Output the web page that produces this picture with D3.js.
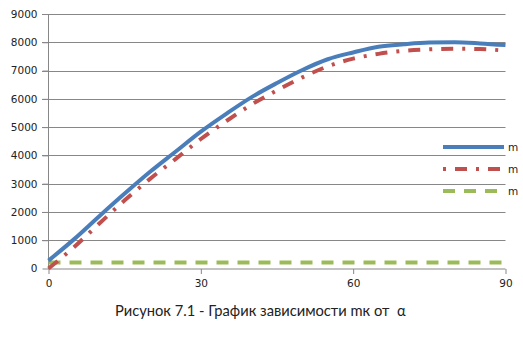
<!DOCTYPE html>
<html><head><meta charset="utf-8">
<script src="https://cdn.jsdelivr.net/npm/d3@7"></script>
<style>body{margin:0;background:#fff}</style>
</head><body>
<script>
const alpha = [0,5,10,15,20,25,30,35,40,45,50,55,60,65,70,75,80,85,90];
const seriesBlue = [280,1030,1850,2650,3420,4130,4840,5470,6060,6560,7020,7400,7640,7840,7930,7990,8000,7960,7900];
const seriesRed  = [0,750,1590,2410,3170,3870,4580,5210,5800,6300,6760,7150,7420,7590,7700,7750,7770,7760,7700];
const seriesGreen= [210,210,210,210,210,210,210,210,210,210,210,210,210,210,210,210,210,210,210];
const xTicks = [0,30,60,90];
const yTicks = [0,1000,2000,3000,4000,5000,6000,7000,8000,9000];
const legendLabels = ["m","m","m"];
const caption = "Рисунок 7.1 - График зависимости mк от\u00a0 α";

const W=523,H=356;
const svg=d3.select("body").append("svg").attr("width",W).attr("height",H);
const x=d3.scaleLinear().domain([0,90]).range([48.5,505.5]);
const y=d3.scaleLinear().domain([0,9000]).range([268.5,14]);
const grid="#878787";
const lblFont="'DejaVu Sans', Verdana, sans-serif";

svg.append("g").selectAll("line").data(yTicks.filter(d=>d>0)).join("line")
  .attr("x1",42).attr("x2",505.5).attr("y1",d=>Math.round(y(d))+0.5).attr("y2",d=>Math.round(y(d))+0.5)
  .attr("stroke",grid).attr("stroke-width",1);

const yAxis=d3.axisLeft(y).tickValues(yTicks).tickSize(6).tickPadding(5).tickFormat(d3.format("d"));
const gy=svg.append("g").attr("transform","translate(48.5,0)").call(yAxis);
gy.select(".domain").attr("stroke",grid).attr("d","M0,14V269");
gy.selectAll(".tick line").attr("stroke",grid);
gy.selectAll(".tick text").attr("font-family",lblFont).attr("font-size","10.5px").attr("fill","#222");

const xAxis=d3.axisBottom(x).tickValues(xTicks).tickSize(5).tickPadding(6).tickFormat(d3.format("d"));
const gx=svg.append("g").attr("transform","translate(0,269)").call(xAxis);
gx.select(".domain").attr("stroke",grid).attr("d","M48.5,0H505.5");
gx.selectAll(".tick line").attr("stroke",grid);
gx.selectAll(".tick text").attr("font-family",lblFont).attr("font-size","10.5px").attr("fill","#222");

const line=d3.line().x((d,i)=>x(alpha[i])).y(d=>y(d)).curve(d3.curveMonotoneX);
const styles=[
  {data:seriesGreen,color:"#9BBB59",dash:"12,9"},
  {data:seriesRed,color:"#C0504D",dash:"12,9,3,9"},
  {data:seriesBlue,color:"#4A7EBB",dash:null}
];
styles.forEach(s=>{
  svg.append("path").attr("d",line(s.data)).attr("fill","none")
    .attr("stroke",s.color).attr("stroke-width",4).attr("stroke-dasharray",s.dash);
});

const leg=[{c:"#4A7EBB",d:null},{c:"#C0504D",d:"3,9,12,9"},{c:"#9BBB59",d:"12,9"}];
leg.forEach((l,i)=>{
  const ly=147+i*22;
  svg.append("line").attr("x1",443).attr("x2",504).attr("y1",ly).attr("y2",ly)
    .attr("stroke",l.c).attr("stroke-width",4).attr("stroke-dasharray",l.d);
  svg.append("text").attr("x",508).attr("y",ly+4).text(legendLabels[i])
    .attr("font-family",lblFont).attr("font-size","10.5px").attr("fill","#222");
});

svg.append("text").attr("x",115).attr("y",316).text(caption)
  .attr("font-family","Lato").attr("font-size","14.7px").attr("fill","#222");
</script>
</body></html>
